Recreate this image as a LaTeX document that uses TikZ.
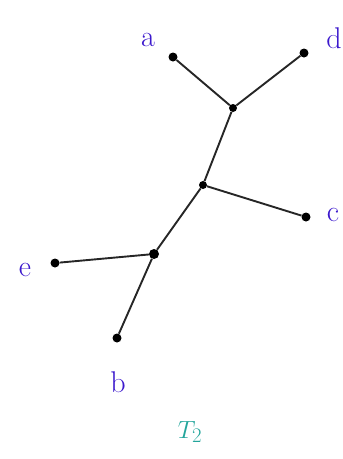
\documentclass[tikz,border=0pt]{standalone}
\usetikzlibrary{positioning}
\definecolor{leafink}{RGB}{60,25,205}
\definecolor{treeink}{RGB}{35,165,155}

\begin{document}
\begin{tikzpicture}[x=1pt,y=-1pt,
  every node/.style={inner sep=0pt},
  dot/.style={circle,fill=black,minimum size=9pt},
  leaflabel/.style={text=leafink,font=\fontsize{30}{30}\selectfont},
  edge/.style={line width=1.9pt,black!85}]
  \useasboundingbox (0,0) rectangle (343,459);
  % leaves
  \node[dot] (a) at (173,57) {};
  \node[dot] (d) at (304,53) {};
  \node[dot] (c) at (306,217) {};
  \node[dot] (e) at (55,263) {};
  \node[dot] (b) at (117,338) {};
  % inner vertices
  \node[dot,minimum size=8pt] (u) at (233,108) {};
  \node[dot,minimum size=8pt] (v) at (203,185) {};
  \node[dot,minimum size=10pt] (w) at (154,254) {};
  \draw[edge] (a)--(u); \draw[edge] (d)--(u);
  \draw[edge] (u)--(v)--(w);
  \draw[edge] (v)--(c);
  \draw[edge] (e)--(w); \draw[edge] (w)--(b);
  % labels
  \node[leaflabel] (la) at (148,40) {a};
  \node[leaflabel] (ld) at (334,38) {d};
  \node[leaflabel] (lc) at (333,215) {c};
  \node[leaflabel] (le) at (25,270) {e};
  \node[leaflabel] (lb) at (118,382) {b};
  \node[text=treeink,font=\fontsize{30}{30}\selectfont] (t2) at (190,432) {$T_2$};
\end{tikzpicture}
\end{document}
